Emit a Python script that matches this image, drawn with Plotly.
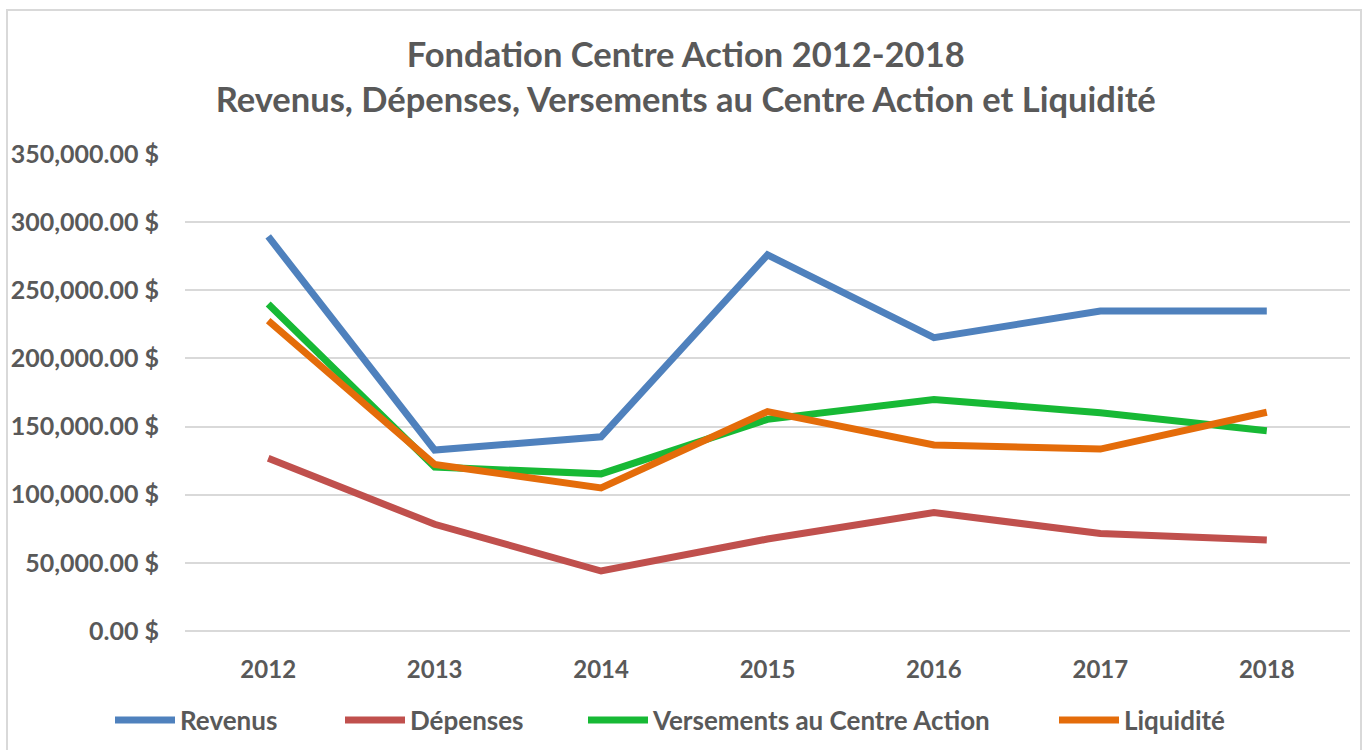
import plotly.graph_objects as go

years = ["2012", "2013", "2014", "2015", "2016", "2017", "2018"]
revenus = [289500, 132800, 142500, 276000, 215200, 234800, 234800]
depenses = [126700, 78300, 44000, 67500, 87000, 71500, 66700]
versements = [239900, 120300, 115300, 155300, 169900, 160200, 146900]
liquidite = [227800, 122200, 105000, 161000, 136500, 133500, 160500]

series_names = ["Revenus", "Dépenses", "Versements au Centre Action", "Liquidité"]
series_colors = ["#4F81BD", "#C0504D", "#17B935", "#E46C0A"]
tick_vals = [0, 50000, 100000, 150000, 200000, 250000, 300000, 350000]
tick_text = ["0.00 $", "50,000.00 $", "100,000.00 $", "150,000.00 $",
             "200,000.00 $", "250,000.00 $", "300,000.00 $", "350,000.00 $"]

FONT = "Lato, 'Open Sans', sans-serif"
GRAY = "#595959"

W, H = 1366, 750
PL, PR, PT, PB = 185, 1350, 154, 631
PW, PH = PR - PL, PB - PT

def px_x(px):
    return (px - PL) / PW

def px_y(py):
    return (PB - py) / PH

legend_ids = ["legend", "legend2", "legend3", "legend4"]
legend_left_px = [110, 340, 583, 1054]

fig = go.Figure()
for name, vals, col, lid in zip(series_names, [revenus, depenses, versements, liquidite],
                                series_colors, legend_ids):
    fig.add_trace(go.Scatter(
        x=years, y=vals, mode="lines", name=name, legend=lid,
        line=dict(color=col, width=7),
    ))

legend_common = dict(
    orientation="h", xanchor="left", yanchor="middle",
    xref="container", yref="container", y=1 - 720 / H,
    font=dict(family=FONT, size=26, color=GRAY, weight="bold"),
    itemwidth=60, bgcolor="rgba(0,0,0,0)",
)

layout_legends = {}
for lid, lx in zip(legend_ids, legend_left_px):
    layout_legends[lid] = dict(legend_common, x=lx / W)

fig.update_layout(
    width=W, height=H,
    margin=dict(l=PL, r=W - PR, t=PT, b=H - PB, autoexpand=False),
    paper_bgcolor="white", plot_bgcolor="white",
    title=dict(
        text="Fondation Centre Action 2012-2018<br>Revenus, Dépenses, Versements au Centre Action et Liquidité",
        x=0.502, xanchor="center", y=1 - 67 / H, yanchor="middle",
        font=dict(family=FONT, size=34.5, color=GRAY, weight="bold"),
    ),
    font=dict(family=FONT, color=GRAY),
    showlegend=True,
    xaxis=dict(
        type="category", range=[-0.5, 6.5],
        showgrid=False, showline=False, zeroline=False,
        ticks="", tickfont=dict(family=FONT, size=24, color=GRAY, weight="bold"),
        ticklabelstandoff=22,
    ),
    yaxis=dict(
        range=[0, 350000], tickvals=tick_vals, ticktext=tick_text,
        showgrid=True, gridcolor="#D9D9D9", gridwidth=1.5,
        zeroline=True, zerolinecolor="#D9D9D9", zerolinewidth=1.5,
        showline=False, ticks="",
        tickfont=dict(family=FONT, size=25, color=GRAY, weight="bold"),
        ticklabelstandoff=25,
    ),
    **layout_legends,
)

fig.add_shape(
    type="rect", xref="paper", yref="paper",
    x0=px_x(7), x1=px_x(1361),
    y0=px_y(770), y1=px_y(10),
    line=dict(color="#D9D9D9", width=2), fillcolor="rgba(0,0,0,0)", layer="below",
)

fig.write_html("out.html", config={"displayModeBar": False},
               post_script="document.body.style.margin='0';")
